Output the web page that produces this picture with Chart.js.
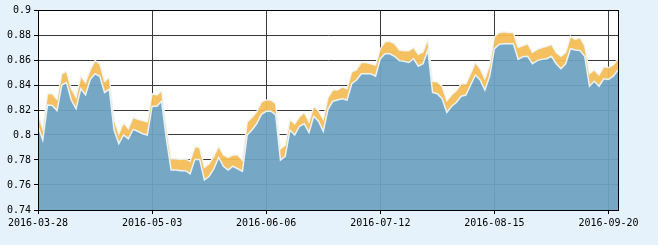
<!DOCTYPE html>
<html lang="zh">
<head>
<meta charset="UTF-8">
<title>走势</title>
<script src="https://cdn.jsdelivr.net/npm/chart.js@4"></script>
<style>
  html, body { margin: 0; padding: 0; background: #e6f2fb; }
  canvas { display: block; }
</style>
</head>
<body>
<canvas id="chart" width="658" height="245"></canvas>
<script>
// trading days, 2016-03-28 .. 2016-09-22
const dates = [
  '2016-03-28','2016-03-29','2016-03-30','2016-03-31','2016-04-01','2016-04-05','2016-04-06','2016-04-07','2016-04-08',
  '2016-04-11','2016-04-12','2016-04-13','2016-04-14','2016-04-15','2016-04-18','2016-04-19','2016-04-20','2016-04-21','2016-04-22',
  '2016-04-25','2016-04-26','2016-04-27','2016-04-28','2016-04-29','2016-05-03','2016-05-04','2016-05-05','2016-05-06',
  '2016-05-09','2016-05-10','2016-05-11','2016-05-12','2016-05-13','2016-05-16','2016-05-17','2016-05-18','2016-05-19','2016-05-20',
  '2016-05-23','2016-05-24','2016-05-25','2016-05-26','2016-05-27','2016-05-30','2016-05-31','2016-06-01','2016-06-02','2016-06-03',
  '2016-06-06','2016-06-07','2016-06-08','2016-06-13','2016-06-14','2016-06-15','2016-06-16','2016-06-17',
  '2016-06-20','2016-06-21','2016-06-22','2016-06-23','2016-06-24','2016-06-27','2016-06-28','2016-06-29','2016-06-30','2016-07-01',
  '2016-07-04','2016-07-05','2016-07-06','2016-07-07','2016-07-08','2016-07-11','2016-07-12','2016-07-13','2016-07-14','2016-07-15',
  '2016-07-18','2016-07-19','2016-07-20','2016-07-21','2016-07-22','2016-07-25','2016-07-26','2016-07-27','2016-07-28','2016-07-29',
  '2016-08-01','2016-08-02','2016-08-03','2016-08-04','2016-08-05','2016-08-08','2016-08-09','2016-08-10','2016-08-11','2016-08-12',
  '2016-08-15','2016-08-16','2016-08-17','2016-08-18','2016-08-19','2016-08-22','2016-08-23','2016-08-24','2016-08-25','2016-08-26',
  '2016-08-29','2016-08-30','2016-08-31','2016-09-01','2016-09-02','2016-09-05','2016-09-06','2016-09-07','2016-09-08','2016-09-09',
  '2016-09-12','2016-09-13','2016-09-14','2016-09-19','2016-09-20','2016-09-21','2016-09-22'
];

const lower = [
  0.807, 0.796, 0.824, 0.8237, 0.8195, 0.840, 0.842, 0.828, 0.821, 0.837,
  0.832, 0.8445, 0.849, 0.847, 0.834, 0.8365, 0.804, 0.793, 0.800, 0.797,
  0.8045, 0.803, 0.801, 0.800, 0.823, 0.823, 0.827, 0.797, 0.772, 0.772,
  0.7715, 0.7715, 0.769, 0.7805, 0.7805, 0.764, 0.767, 0.773, 0.782, 0.775,
  0.772, 0.775, 0.773, 0.771, 0.800, 0.804, 0.809, 0.8165, 0.819, 0.819,
  0.816, 0.780, 0.783, 0.804, 0.800, 0.807, 0.809, 0.802, 0.815, 0.811,
  0.803, 0.8205, 0.827, 0.828, 0.829, 0.828, 0.841, 0.844, 0.849, 0.849,
  0.849, 0.847, 0.861, 0.865, 0.865, 0.863, 0.8595, 0.859, 0.858, 0.861,
  0.855, 0.857, 0.868, 0.834, 0.833, 0.829, 0.818, 0.823, 0.826, 0.831,
  0.832, 0.840, 0.848, 0.844, 0.836, 0.847, 0.869, 0.8725, 0.873, 0.873,
  0.873, 0.8605, 0.8627, 0.863, 0.857, 0.8595, 0.8605, 0.861, 0.863, 0.857,
  0.853, 0.857, 0.869, 0.868, 0.8675, 0.863, 0.839, 0.843, 0.839, 0.845,
  0.8445, 0.847, 0.852
];

const upper = [
  0.8165, 0.805, 0.833, 0.833, 0.8285, 0.849, 0.851, 0.837, 0.830, 0.847,
  0.842, 0.8525, 0.8595, 0.857, 0.843, 0.846, 0.8125, 0.801, 0.810, 0.805,
  0.814, 0.8125, 0.8115, 0.8105, 0.833, 0.832, 0.8355, 0.806, 0.781, 0.781,
  0.7805, 0.781, 0.779, 0.7905, 0.790, 0.774, 0.777, 0.783, 0.791, 0.784,
  0.782, 0.784, 0.784, 0.780, 0.8105, 0.814, 0.8185, 0.8265, 0.828, 0.828,
  0.825, 0.789, 0.792, 0.8125, 0.809, 0.8145, 0.818, 0.8105, 0.823, 0.8195,
  0.8125, 0.830, 0.836, 0.836, 0.8385, 0.837, 0.8505, 0.852, 0.858, 0.858,
  0.857, 0.856, 0.869, 0.8745, 0.875, 0.873, 0.868, 0.8675, 0.8675, 0.870,
  0.8645, 0.8665, 0.8765, 0.843, 0.8425, 0.839, 0.8275, 0.832, 0.8355, 0.841,
  0.841, 0.849, 0.858, 0.853, 0.845, 0.856, 0.8785, 0.882, 0.8825, 0.882,
  0.882, 0.870, 0.8715, 0.873, 0.866, 0.8685, 0.870, 0.871, 0.8725, 0.866,
  0.863, 0.866, 0.879, 0.8765, 0.878, 0.8715, 0.849, 0.852, 0.848, 0.8545,
  0.854, 0.856, 0.861
];

const yMin = 0.74, yMax = 0.9, yStep = 0.02;
const labelEvery = 24;

// page background + white plot area + black frame
const frame = {
  id: 'frame',
  beforeDraw(chart) {
    const { ctx, chartArea: a } = chart;
    ctx.save();
    ctx.fillStyle = '#e6f2fb';
    ctx.fillRect(0, 0, chart.width, chart.height);
    ctx.fillStyle = '#ffffff';
    ctx.fillRect(a.left, a.top, a.right - a.left, a.bottom - a.top);
    ctx.restore();
  },
  afterDraw(chart) {
    const { ctx, chartArea: a } = chart;
    ctx.save();
    ctx.strokeStyle = '#000';
    ctx.lineWidth = 1;
    ctx.strokeRect(Math.round(a.left) + 0.5, Math.round(a.top) + 0.5,
                   Math.round(a.right - a.left), Math.round(a.bottom - a.top));
    ctx.restore();
  }
};

const font = { family: "'DejaVu Sans Mono', monospace", size: 10 };

new Chart(document.getElementById('chart'), {
  type: 'line',
  data: {
    labels: dates,
    datasets: [
      {
        data: lower,
        fill: 'origin',
        backgroundColor: 'rgba(109,163,193,0.94)',
        borderColor: 'rgba(235,245,250,0.95)',
        borderWidth: 1.5,
        pointRadius: 0,
        tension: 0
      },
      {
        data: upper,
        fill: '-1',
        backgroundColor: 'rgba(244,188,86,0.94)',
        borderColor: 'rgba(240,246,250,0.9)',
        borderWidth: 1.5,
        pointRadius: 0,
        tension: 0
      }
    ]
  },
  options: {
    responsive: false,
    animation: false,
    layout: { padding: { top: 10, right: 40, bottom: 0, left: 0 } },
    plugins: { legend: { display: false }, tooltip: { enabled: false } },
    scales: {
      x: {
        type: 'category',
        offset: false,
        afterBuildTicks: axis => { axis.ticks = axis.ticks.filter(t => t.value % labelEvery === 0); },
        afterFit: s => { s.height = 35; },
        ticks: { autoSkip: false, maxRotation: 0, color: '#000', font: font, padding: 3 },
        grid: { color: '#3a3a3a', tickColor: '#000', tickLength: 4, lineWidth: 1 },
        border: { color: '#000' }
      },
      y: {
        min: yMin,
        max: yMax,
        afterFit: s => { s.width = 38; },
        ticks: {
          stepSize: yStep,
          color: '#000',
          font: font,
          padding: 3,
          callback: v => String(+v.toFixed(2))
        },
        grid: { color: '#3a3a3a', tickColor: '#000', tickLength: 4, lineWidth: 1 },
        border: { color: '#000' }
      }
    }
  },
  plugins: [frame]
});
</script>
</body>
</html>
